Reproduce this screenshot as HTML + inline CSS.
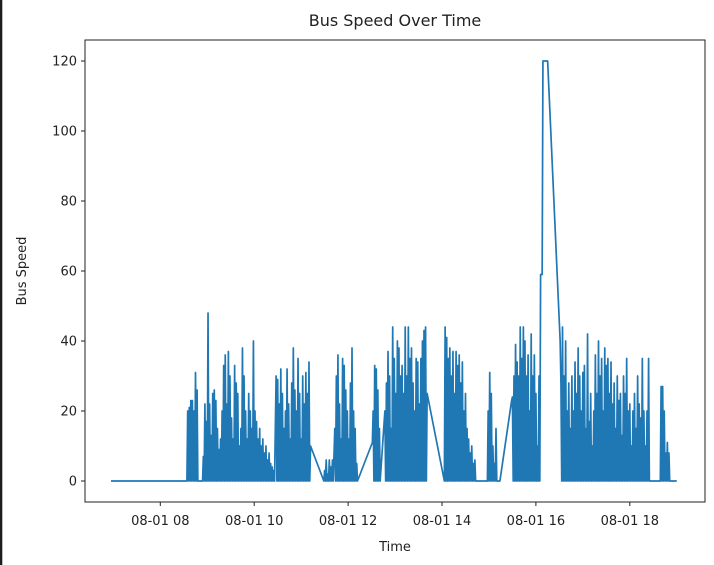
<!DOCTYPE html>
<html><head><meta charset="utf-8"><style>
html,body{margin:0;padding:0;background:#fff;}
svg{display:block;font-family:"DejaVu Sans","Liberation Sans",sans-serif;}
</style></head><body>
<svg id="chart" width="714" height="565" viewBox="0 0 714 565" xmlns="http://www.w3.org/2000/svg">
<rect x="0" y="0" width="714" height="565" fill="#fff"/>
<rect x="0" y="0" width="2.3" height="565" fill="#1e1e1e"/>
<text x="395" y="26" font-size="16" text-anchor="middle" fill="#222">Bus Speed Over Time</text>
<g id="plot"></g>
<rect x="85" y="40" width="620" height="462" fill="none" stroke="#222" stroke-width="1"/>
<g id="xticks"></g>
<g id="yticks"></g>
<text x="395" y="551" font-size="13" text-anchor="middle" fill="#222">Time</text>
<text x="0" y="0" font-size="13" text-anchor="middle" fill="#222" transform="translate(26,271) rotate(-90)">Bus Speed</text>
</svg>
<script>
// Each segment: start minute (since midnight, 08-01), then one speed reading per minute
const segmentStarts = [417,514,515,534,535,557,583,603,628,689,703,751,752,767,821,843,844,898,899,914,929,930,966,968,975,991,994,1119,1140];
const segmentSpeeds = [
[0],
[0],
[20,0,21,0,23,0,23,0,20,0,31,0,26,0],
[0],
[7,0,22,0,17,0,48,0,22,0,13,0,25,0,26,0,23,0,15,0,9,0],
[12,0,20,0,33,0,36,0,22,0,37,0,30,0,18,0,12,0,33,0,28,0,25,0,10,0],
[15,0,38,0,30,0,20,0,12,0,25,0,20,0,15,0,40,0,20,0],
[17,0,12,0,15,0,10,0,12,0,8,0,10,0,6,0,8,0,5,0,4,0,3,0],
[30,0,29,0,22,0,32,0,25,0,15,0,20,0,32,0,22,0,12,0,28,0,38,0,26,0,20,0,35,0,25,0,12,0,30,0,22,0,31,0,25,0,34,0,10],
[0,3,0,6,0,2,0,6,0,4,0,6,0],
[15,0,30,0,36,0,22,0,12,0,35,0,33,0,26,0,20,0,12,0,28,0,38,0,20,0,15,0,5,0],
[11],
[20,0,33,0,32,0,26,0,15,0],
[20,0,28,0,37,0,30,0,15,0,44,0,35,0,25,0,40,0,38,0,30,0,33,0,25,0,44,0,30,0,44,0,35,0,38,0,28,0,20,0,35,0,34,0,22,0,35,0,40,0,43,0,44,0],
[25],
[0],
[44,0,41,0,35,0,38,0,30,0,37,0,25,0,37,0,33,0,36,0,28,0,34,0,20,0,25,0,15,0,12,0,8,0,10,0,5,0,6,0],
[0],
[20,0,31,0,25,0,10,0,5,0,15,0,0,0],
[0],
[23],
[24,0,30,0,39,0,34,0,30,0,44,0,35,0,44,0,40,0,30,0,36,0,20,0,42,0,30,0,36,0,25,0,10,0,30,0],
[59],
[59,120],
[120],
[40,28,0],
[44,0,30,0,40,0,20,0,28,0,15,0,30,0,20,0,34,0,25,0,38,0,30,0,20,0,31,0,33,0,15,0,42,0,17,0,25,0,10,0,20,0,36,0,25,0,40,0,30,0,35,0,20,0,38,0,33,0,35,0,25,0,34,0,22,0,28,0,15,0,30,0,23,0,25,0,13,0,30,0,25,0,35,0,20,0,22,0,10,0,20,0,25,0,15,0,30,0,22,0,18,0,35,0,20,0,10,0,20,0,35,0],
[0,27,0,27,0,20,0,8,0,11,0,8,0],
[0]
];
const xTickMinutes = [480,600,720,840,960,1080];
const xTickLabels = ["08-01 08","08-01 10","08-01 12","08-01 14","08-01 16","08-01 18"];
const yTickValues = [0,20,40,60,80,100,120];

const NS = "http://www.w3.org/2000/svg";
function xScale(m){ return 160.3 + (m - 480) / 60 * 46.95; }
function yScale(v){ return 481 - v * 3.5; }

const plot = document.getElementById('plot');
let d = '';
let first = true;
segmentStarts.forEach((start, s) => {
  (segmentSpeeds[s] || []).forEach((v, k) => {
    d += (first ? 'M' : 'L') + xScale(start + k).toFixed(2) + ',' + yScale(v).toFixed(2);
    first = false;
  });
});
const line = document.createElementNS(NS, 'path');
line.setAttribute('d', d);
line.setAttribute('fill', 'none');
line.setAttribute('stroke', '#1f77b4');
line.setAttribute('stroke-width', '1.7');
line.setAttribute('stroke-linejoin', 'round');


plot.appendChild(line);

const xg = document.getElementById('xticks');
xTickMinutes.forEach((m, i) => {
  const x = xScale(m);
  const t = document.createElementNS(NS, 'line');
  t.setAttribute('x1', x); t.setAttribute('x2', x);
  t.setAttribute('y1', 502); t.setAttribute('y2', 506);
  t.setAttribute('stroke', '#222');
  
  
  xg.appendChild(t);
  const lb = document.createElementNS(NS, 'text');
  lb.setAttribute('x', x); lb.setAttribute('y', 525);
  lb.setAttribute('font-size', '13'); lb.setAttribute('text-anchor', 'middle');
  lb.setAttribute('fill', '#222');
  lb.textContent = xTickLabels[i];
  
  
  xg.appendChild(lb);
});

const yg = document.getElementById('yticks');
yTickValues.forEach(v => {
  const y = yScale(v);
  const t = document.createElementNS(NS, 'line');
  t.setAttribute('x1', 81); t.setAttribute('x2', 85);
  t.setAttribute('y1', y); t.setAttribute('y2', y);
  t.setAttribute('stroke', '#222');
  
  
  yg.appendChild(t);
  const lb = document.createElementNS(NS, 'text');
  lb.setAttribute('x', 77); lb.setAttribute('y', y + 4.5);
  lb.setAttribute('font-size', '13'); lb.setAttribute('text-anchor', 'end');
  lb.setAttribute('fill', '#222');
  lb.textContent = v;
  
  
  yg.appendChild(lb);
});
</script>
</body></html>
